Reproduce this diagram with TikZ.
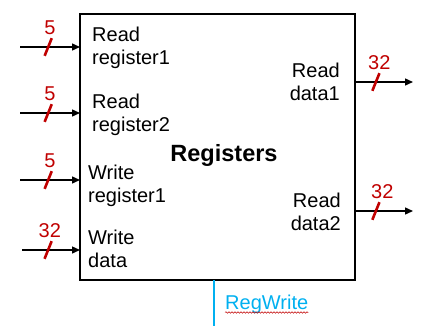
\documentclass[tikz,border=0pt]{standalone}
\usepackage{fontspec}
\setmainfont{Liberation Sans}
\usetikzlibrary{arrows.meta,positioning,decorations.pathmorphing}
\definecolor{busred}{HTML}{C00000}
\definecolor{ctrlblue}{HTML}{00B0F0}

\begin{document}
\begin{tikzpicture}
	[x=1pt,y=-1pt,>={Triangle[length=8pt,width=7pt]},
		font=\fontsize{20}{23}\selectfont,
		regfile/.style={draw,line width=1.6pt,minimum width=275pt,minimum height=266pt,inner sep=0pt,outer sep=0pt},
		bus/.style={->,line width=1.4pt},
		slash/.style={fill=busred,minimum width=2.6pt,minimum height=19pt,inner sep=0pt,rotate=-22},
		width/.style={text=busred,inner sep=0pt,above=12pt},
		port/.style={align=left,inner sep=0pt},
		ctrl/.style={ctrlblue,line width=1.4pt}]

	\useasboundingbox (0,0) rectangle (430,326);

	\node[regfile] (R) at (217.5,147) {};
	\node[font=\fontsize{23.5}{26}\selectfont\bfseries] (title) at (224,155) {Registers};

	% port names inside the register file
	\node[port,anchor=north west] (rr1) at (92,27)  {Read\\register1};
	\node[port,anchor=north west] (rr2) at (92,94)  {Read\\register2};
	\node[port,anchor=north west] (wr)  at (88,165) {Write\\register1};
	\node[port,anchor=north west] (wd)  at (88,230) {Write\\data};
	\node[port,anchor=north east,align=right] (rd1) at (340,63)  {Read\\data1};
	\node[port,anchor=north east,align=right] (rd2) at (341,193) {Read\\data2};

	% free ends of the buses
	\coordinate (in1) at (20,47);
	\coordinate (in2) at (20,113);
	\coordinate (in3) at (20,180);
	\coordinate (in4) at (22,250);
	\coordinate (out1) at (413,82);
	\coordinate (out2) at (413,211);
	\coordinate (rw) at (214,326);

	\draw[bus] (in1) -- node[pos=0.47,slash] (s1) {} node[pos=0.5,width] (w1) {5} (R.west |- in1);
	\draw[bus] (in2) -- node[pos=0.47,slash] (s2) {} node[pos=0.5,width] (w2) {5} (R.west |- in2);
	\draw[bus] (in3) -- node[pos=0.47,slash] (s3) {} node[pos=0.5,width] (w3) {5} (R.west |- in3);
	\draw[bus] (in4) -- node[pos=0.45,slash] (s4) {} node[pos=0.48,width] (w4) {32} (R.west |- in4);

	\draw[bus] (R.east |- out1) -- node[pos=0.36,slash] (s5) {} node[pos=0.42,width] (w5) {32} (out1);
	\draw[bus] (R.east |- out2) -- node[pos=0.36,slash] (s6) {} node[pos=0.47,width] (w6) {32} (out2);

	% write enable
	\draw[ctrl] (rw |- R.south) -- (rw);
	\node[text=ctrlblue,inner sep=0pt,anchor=base west] (regwrite) at (225,309) {RegWrite};
	\draw[busred,line width=0.5pt,decorate,decoration={snake,amplitude=0.8pt,segment length=3pt}]
		([yshift=-3.5pt]regwrite.base west) -- ([yshift=-3.5pt]regwrite.base east);

\end{tikzpicture}
\end{document}
